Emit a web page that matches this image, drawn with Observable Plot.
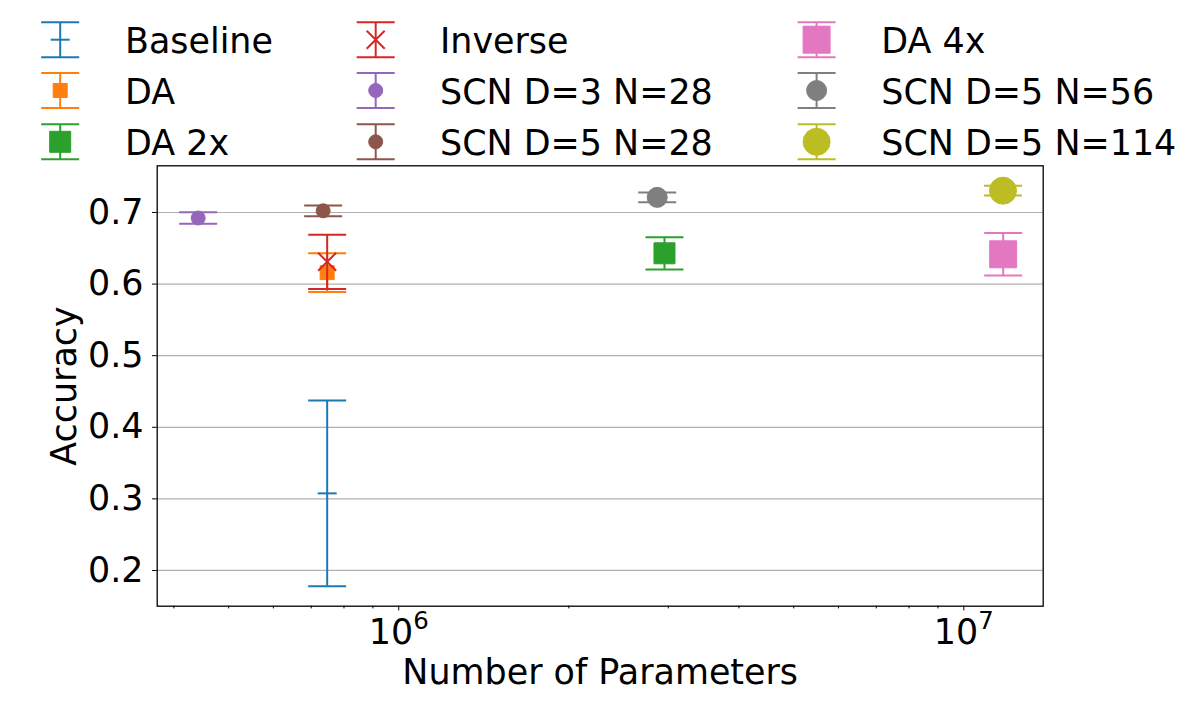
<!DOCTYPE html>
<html>
<head>
<meta charset="utf-8">
<script src="https://cdn.jsdelivr.net/npm/d3@7"></script>
<script src="https://cdn.jsdelivr.net/npm/@observablehq/plot@0.6"></script>
<style>
html, body { margin: 0; padding: 0; background: #fff; overflow: hidden; }
#wrap { width: 1200px; height: 702px; position: relative; font-family: "DejaVu Sans", sans-serif; color: #000; background: #fff; }
#legend { position: absolute; left: 0; top: 0; width: 1200px; height: 172px; }
#chart { position: absolute; left: 0; top: 160px; }
</style>
</head>
<body>
<div id="wrap"><div id="legend"></div><div id="chart"></div></div>
<script>
// ---- data ----
const series = ["Baseline", "DA", "DA 2x", "Inverse", "SCN D=3 N=28", "SCN D=5 N=28", "DA 4x", "SCN D=5 N=56", "SCN D=5 N=114"];
const params = [747000, 747000, 2953000, 747000, 441600, 734900, 11740000, 2867000, 11730000];
const accuracy = [0.3077, 0.616, 0.643, 0.6311, 0.6923, 0.7023, 0.6416, 0.7211, 0.7305];
const errors = [0.1296, 0.0272, 0.0225, 0.0378, 0.0081, 0.0075, 0.0296, 0.0067, 0.0068];
const yTicks = [0.2, 0.3, 0.4, 0.5, 0.6, 0.7];
const xMajorTicks = [1e6, 1e7];
const xMinorTicks = [4e5, 5e5, 6e5, 7e5, 8e5, 9e5, 2e6, 3e6, 4e6, 5e6, 6e6, 7e6, 8e6, 9e6];

// ---- styles ----
const styles = {
  "Baseline":       {color: "#1f77b4", marker: "hline",  size: 19},
  "DA":             {color: "#ff7f0e", marker: "square", size: 14},
  "DA 2x":          {color: "#2ca02c", marker: "square", size: 21},
  "Inverse":        {color: "#d62728", marker: "times",  size: 18},
  "SCN D=3 N=28":   {color: "#9467bd", marker: "circle", size: 14},
  "SCN D=5 N=28":   {color: "#8c564b", marker: "circle", size: 14},
  "DA 4x":          {color: "#e377c2", marker: "square", size: 27},
  "SCN D=5 N=56":   {color: "#7f7f7f", marker: "circle", size: 20},
  "SCN D=5 N=114":  {color: "#bcbd22", marker: "circle", size: 27}
};
const CAP = 19;     // half-width of error caps (px)
const FONT = 34.9;

const R = (size) => Math.sqrt(size / Math.PI);
const symbols = {
  hline:  {draw(c, s) { const r = R(s); c.moveTo(-r, 0); c.lineTo(r, 0); }},
  square: {draw(c, s) { const r = R(s); c.rect(-r, -r, 2 * r, 2 * r); }},
  times:  {draw(c, s) { const r = R(s); c.moveTo(-r, -r); c.lineTo(r, r); c.moveTo(-r, r); c.lineTo(r, -r); }},
  circle: {draw(c, s) { const r = R(s); c.moveTo(r, 0); c.arc(0, 0, r, 0, 2 * Math.PI); c.closePath(); }}
};

const rows = series.map((s, i) => ({
  series: s, params: params[i], accuracy: accuracy[i],
  lo: accuracy[i] - errors[i], hi: accuracy[i] + errors[i]
}));

const seriesMarks = rows.flatMap(d => {
  const st = styles[d.series];
  const filled = st.marker === "square" || st.marker === "circle";
  return [
    Plot.ruleX([d], {x: "params", y1: "lo", y2: "hi", stroke: st.color, strokeWidth: 2}),
    Plot.dot([d], {x: "params", y: "lo", symbol: symbols.hline, r: CAP, stroke: st.color, strokeWidth: 2}),
    Plot.dot([d], {x: "params", y: "hi", symbol: symbols.hline, r: CAP, stroke: st.color, strokeWidth: 2}),
    Plot.dot([d], {x: "params", y: "accuracy", symbol: symbols[st.marker], r: st.size / 2,
      fill: filled ? st.color : "none", stroke: st.color, strokeWidth: filled ? 1 : 2})
  ];
});

const chart = Plot.plot({
  width: 1200, height: 542,
  marginTop: 5.3, marginBottom: 96.3, marginLeft: 156.7, marginRight: 157.3,
  x: {type: "log", domain: [373700, 13820000]},
  y: {domain: [0.1501, 0.7652]},
  style: {fontFamily: "DejaVu Sans, sans-serif", fontSize: FONT + "px", background: "transparent", color: "black", overflow: "visible"},
  marks: [
    Plot.gridY(yTicks, {stroke: "#b0b0b0", strokeOpacity: 1, strokeWidth: 1.2}),
    ...seriesMarks,
    Plot.frame({stroke: "black", strokeWidth: 1.3}),
    Plot.axisY(yTicks, {tickSize: 4.7, tickPadding: 9, fontSize: FONT, tickFormat: d3.format(".1f"), label: null}),
    Plot.axisX(xMinorTicks, {tickSize: 2.7, tickFormat: () => "", label: null}),
    Plot.axisX(xMajorTicks, {tickSize: 4.7, tickPadding: 8.5, fontSize: FONT, tickFormat: d => "10^" + Math.round(Math.log10(d)), label: null}),
    Plot.text(["Accuracy"], {frameAnchor: "left", dx: -92.7, rotate: -90, fontSize: FONT, lineAnchor: "middle", textAnchor: "middle"}),
    Plot.text(["Number of Parameters"], {frameAnchor: "bottom", dy: 66.3, fontSize: FONT, lineAnchor: "middle", textAnchor: "middle"})
  ]
});

// superscripts for the log tick labels
d3.select(chart).selectAll("text").each(function() {
  const m = /^10\^(\d+)$/.exec(this.textContent);
  if (m) {
    const t = d3.select(this);
    t.text("10");
    t.append("tspan").attr("dy", -15).attr("font-size", 24.4).text(m[1]);
  }
});
document.getElementById("chart").appendChild(chart);

// ---- legend (3 columns, column-major like matplotlib) ----
const colX = [60.2, 375.7, 816.6];
const textX = [125, 440, 881.3];
const rowY = [39.7, 90.5, 141.8];
const leg = d3.select("#legend").append("svg").attr("width", 1200).attr("height", 172)
  .style("font-family", "DejaVu Sans, sans-serif").style("overflow", "visible");
series.forEach((s, i) => {
  const st = styles[s];
  const c = Math.floor(i / 3), r = i % 3;
  const cx = colX[c], cy = rowY[r];
  const g = leg.append("g").attr("transform", `translate(${cx},${cy})`);
  g.append("line").attr("x1", 0).attr("x2", 0).attr("y1", -17.5).attr("y2", 17.5).attr("stroke", st.color).attr("stroke-width", 2);
  [-17.5, 17.5].forEach(y => g.append("line").attr("x1", -CAP).attr("x2", CAP).attr("y1", y).attr("y2", y).attr("stroke", st.color).attr("stroke-width", 2));
  const p = d3.path();
  const rr = st.size / 2;
  symbols[st.marker].draw(p, rr * rr * Math.PI);
  const filled = st.marker === "square" || st.marker === "circle";
  g.append("path").attr("d", p.toString())
    .attr("fill", filled ? st.color : "none").attr("stroke", st.color).attr("stroke-width", filled ? 1 : 2);
  leg.append("text").attr("x", textX[c]).attr("y", cy + 13.6).attr("font-size", FONT).attr("fill", "black").text(s);
});
</script>
</body>
</html>
